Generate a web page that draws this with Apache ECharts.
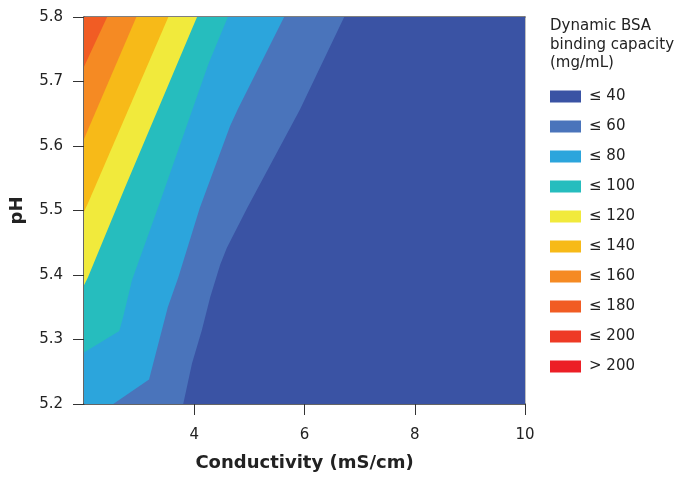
<!DOCTYPE html>
<html>
<head>
<meta charset="utf-8">
<script src="https://cdn.jsdelivr.net/npm/echarts@6/dist/echarts.min.js"></script>
<style>html,body{margin:0;padding:0;background:#fff}#c{width:679px;height:477px}</style>
</head>
<body>
<div id="c"></div>
<script>
// ---- data ----
const levelNames = ['≤ 40', '≤ 60', '≤ 80', '≤ 100', '≤ 120', '≤ 140', '≤ 160', '≤ 180', '≤ 200', '> 200'];
const xRange = [2, 10];
const yRange = [5.2, 5.8];
// contour lines [conductivity, pH], each running from the top edge down to the bottom/left edge
const edge40 = [[10, 5.8], [10, 5.2]];
const contour40 = [[6.72, 5.8], [5.92, 5.657], [4.96, 5.504], [4.59, 5.442], [4.47, 5.416], [4.29, 5.366], [4.14, 5.315], [3.96, 5.263], [3.80, 5.2]];
const contour60 = [[5.63, 5.8], [4.79, 5.657], [4.65, 5.631], [4.10, 5.504], [3.71, 5.396], [3.52, 5.350], [3.38, 5.304], [3.18, 5.238], [2.53, 5.2]];
const contour80 = [[4.61, 5.8], [4.26, 5.728], [3.34, 5.504], [2.87, 5.392], [2.71, 5.335], [2.64, 5.313], [2.0, 5.280]];
const contour100 = [[4.05, 5.8], [2.74, 5.535], [2.07, 5.396], [2.0, 5.384]];
const contour120 = [[3.53, 5.8], [2.07, 5.511], [2.0, 5.498]];
const contour140 = [[2.95, 5.8], [2.0, 5.611]];
const contour160 = [[2.42, 5.8], [2.0, 5.723]];
const contour180 = [];
const contour200 = [];

// ---- styles ----
const palette = ['#3A53A4', '#4A74BB', '#2CA5DC', '#26BDBE', '#F1EA3C', '#F7BA18', '#F58A23', '#F15C24', '#EE3A25', '#EC1F26'];
const FONT = 'DejaVu Sans';
const regionLines = [edge40, contour40, contour60, contour80, contour100, contour120, contour140, contour160, contour180, contour200];

function regionPolygon(line) {
  const pts = line.slice();
  const last = pts[pts.length - 1];
  if (last[0] > xRange[0]) pts.push([xRange[0], yRange[0]]);
  pts.push([xRange[0], yRange[1]]);
  return pts;
}

const series = levelNames.map((name, i) => ({
  name: name,
  type: 'custom',
  clip: true,
  z: 2 + i,
  itemStyle: { color: palette[i] },
  silent: true,
  data: regionLines[i],
  renderItem: function (params, api) {
    if (params.dataIndex !== 0) return null;
    const pts = regionPolygon(regionLines[i]).map(p => api.coord(p));
    return { type: 'polygon', shape: { points: pts }, style: { fill: palette[i] } };
  }
}));

const chart = echarts.init(document.getElementById('c'), null, { renderer: 'canvas' });
chart.setOption({
  animation: false,
  backgroundColor: '#fff',
  textStyle: { fontFamily: FONT },
  title: {
    text: 'Dynamic BSA\nbinding capacity\n(mg/mL)',
    left: 545, top: 12,
    textStyle: { fontFamily: FONT, fontSize: 15, fontWeight: 'normal', color: '#222', lineHeight: 18.5 }
  },
  legend: {
    orient: 'vertical', left: 545, top: 84,
    icon: 'rect', itemWidth: 31, itemHeight: 12, itemGap: 15,
    selectedMode: false,
    data: levelNames,
    textStyle: { fontFamily: FONT, fontSize: 15, color: '#222', lineHeight: 12, padding: [0, 0, 0, 3] }
  },
  grid: { left: 84, right: 154, top: 17, bottom: 69, containLabel: false },
  xAxis: [{
    type: 'value', min: xRange[0], max: xRange[1], interval: 2,
    name: 'Conductivity (mS/cm)', nameLocation: 'middle', nameGap: 50,
    nameTextStyle: { fontFamily: FONT, fontSize: 18, fontWeight: 'bold', color: '#222' },
    axisLine: { show: true, lineStyle: { color: '#333', width: 1.5 } },
    axisTick: { show: true, length: 11, lineStyle: { color: '#333' } },
    axisLabel: { showMinLabel: false, margin: 24, fontFamily: FONT, fontSize: 15, color: '#222' },
    splitLine: { show: false }
  }, {
    type: 'value', position: 'top', min: xRange[0], max: xRange[1],
    axisLine: { show: true, lineStyle: { color: '#555', width: 1.5 } },
    axisTick: { show: false }, axisLabel: { show: false }, splitLine: { show: false }
  }],
  yAxis: [{
    type: 'value', min: yRange[0], max: yRange[1], interval: 0.1,
    name: 'pH', nameLocation: 'middle', nameGap: 58, nameRotate: 90,
    nameTextStyle: { fontFamily: FONT, fontSize: 18, fontWeight: 'bold', color: '#222' },
    axisLine: { show: true, lineStyle: { color: '#333', width: 1.5 } },
    axisTick: { show: true, length: 11, lineStyle: { color: '#333' } },
    axisLabel: { margin: 21, fontFamily: FONT, fontSize: 15, color: '#222', formatter: v => v.toFixed(1) },
    splitLine: { show: false }
  }, {
    type: 'value', position: 'right', min: yRange[0], max: yRange[1],
    axisLine: { show: true, lineStyle: { color: '#aaa', width: 1.5 } },
    axisTick: { show: false }, axisLabel: { show: false }, splitLine: { show: false }
  }],
  series: series
});
</script>
</body>
</html>
